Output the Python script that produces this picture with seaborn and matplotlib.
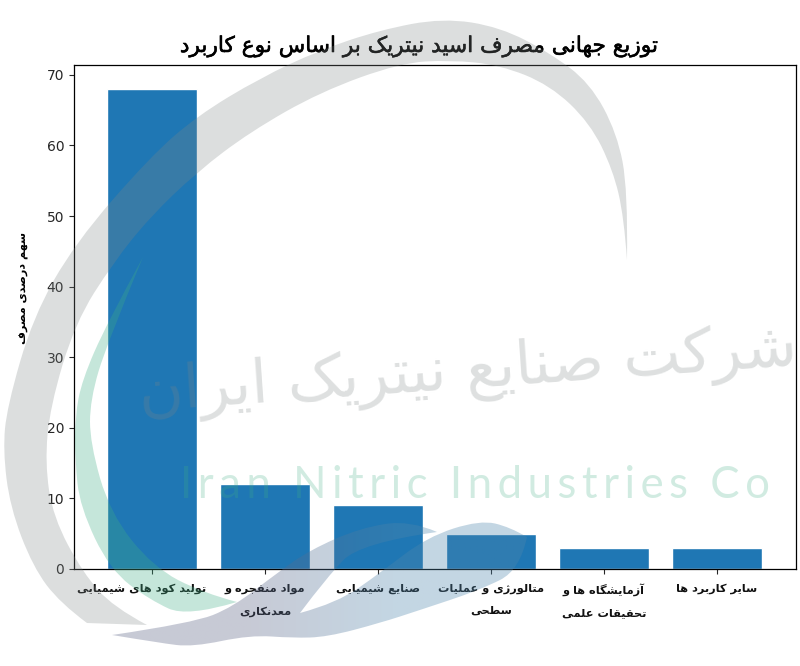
import numpy as np
import pandas as pd
import seaborn as sns
import matplotlib.pyplot as plt
import matplotlib.patheffects as pe
from matplotlib.colors import LinearSegmentedColormap
from matplotlib.patches import PathPatch
from matplotlib.path import Path
from matplotlib.transforms import ScaledTranslation

# letras -> formas (aislada, final, inicial, media)
forms = {
	'ا': (0xFE8D, 0xFE8E), 'آ': (0xFE81, 0xFE82), 'ب': (0xFE8F, 0xFE90, 0xFE91, 0xFE92),
	'پ': (0xFB56, 0xFB57, 0xFB58, 0xFB59), 'ت': (0xFE95, 0xFE96, 0xFE97, 0xFE98),
	'ج': (0xFE9D, 0xFE9E, 0xFE9F, 0xFEA0), 'ح': (0xFEA1, 0xFEA2, 0xFEA3, 0xFEA4),
	'د': (0xFEA9, 0xFEAA), 'ر': (0xFEAD, 0xFEAE), 'ز': (0xFEAF, 0xFEB0), 'ژ': (0xFB8A, 0xFB8B),
	'س': (0xFEB1, 0xFEB2, 0xFEB3, 0xFEB4), 'ش': (0xFEB5, 0xFEB6, 0xFEB7, 0xFEB8),
	'ص': (0xFEB9, 0xFEBA, 0xFEBB, 0xFEBC), 'ع': (0xFEC9, 0xFECA, 0xFECB, 0xFECC),
	'ط': (0xFEC1, 0xFEC2, 0xFEC3, 0xFEC4), 'ف': (0xFED1, 0xFED2, 0xFED3, 0xFED4),
	'ق': (0xFED5, 0xFED6, 0xFED7, 0xFED8), 'ک': (0xFB8E, 0xFB8F, 0xFB90, 0xFB91),
	'گ': (0xFB92, 0xFB93, 0xFB94, 0xFB95), 'ل': (0xFEDD, 0xFEDE, 0xFEDF, 0xFEE0),
	'م': (0xFEE1, 0xFEE2, 0xFEE3, 0xFEE4), 'ن': (0xFEE5, 0xFEE6, 0xFEE7, 0xFEE8),
	'و': (0xFEED, 0xFEEE), 'ه': (0xFEE9, 0xFEEA, 0xFEEB, 0xFEEC), 'ی': (0xFBFC, 0xFBFD, 0xFBFE, 0xFBFF),
}


def fa(text):
	# matplotlib no da forma al persa: se hace a mano y se invierte
	lines = []
	for line in text.split('\n'):
		out = ''
		for i, c in enumerate(line):
			if c not in forms:
				out += c
				continue
			prev = line[i - 1] if i > 0 else ' '
			nxt = line[i + 1] if i < len(line) - 1 else ' '
			after = prev in forms and len(forms[prev]) == 4
			before = nxt in forms and len(forms[c]) == 4
			idx = 3 if (after and before) else 1 if after else 2 if before else 0
			out += chr(forms[c][idx])
		lines.append(out[::-1])
	return '\n'.join(lines)


uses = ["تولید کود های شیمیایی", "مواد منفجره و\nمعدنکاری", "صنایع شیمیایی",
	"متالورژی و عملیات\nسطحی", "آزمایشگاه ها و\nتحقیقات علمی", "سایر کاربرد ها"]
shares = [68, 12, 9, 5, 3, 3]
title = "توزیع جهانی مصرف اسید نیتریک بر اساس نوع کاربرد"
ylabel = "سهم درصدی مصرف"
mark_fa = "شرکت صنایع نیتریک ایران"
mark_en = "Iran Nitric Industries Co"

W, H = 800, 666
df = pd.DataFrame({"use": [fa(u) for u in uses], "share": shares})

sns.set_style("ticks")
plt.rcParams['font.family'] = ['DejaVu Sans']
fig = plt.figure(figsize=(8, 6.66), dpi=100)
ax = fig.add_axes([74 / W, 1 - 569 / H, 722 / W, 504 / H])
sns.barplot(data=df, x="use", y="share", color="#1f77b4", saturation=1, width=0.8, ax=ax)
ax.set_xlim(-0.69, 5.70)
ax.set_ylim(0, 71.4)
ax.set_xlabel("")
ax.set_ylabel(fa(ylabel), fontsize=8, fontweight="bold", color="black")
ax.yaxis.set_label_coords(-0.063, 0.557)
ax.tick_params(axis='y', labelsize=10, length=3.5)
ax.tick_params(axis='x', labelsize=8.2, length=3.5, pad=7, labelcolor="#111111")
for t in ax.get_xticklabels():
	t.set_fontweight("bold")
	t.set_linespacing(2.5)
# la primera etiqueta esta corrida a la izquierda en el original
first = ax.get_xticklabels()[0]
first.set_transform(first.get_transform() + ScaledTranslation(-10 / 100, 0, fig.dpi_scale_trans))
for s in ax.spines.values():
	s.set_visible(True)
	s.set_linewidth(0.9)
	s.set_color("black")
fig.text(418 / W, 1 - 46 / H, fa(title), fontsize=15.6, ha="center", va="center", color="black",
	path_effects=[pe.withStroke(linewidth=0.4, foreground="black")])

# marca de agua encima de todo, en pixeles de la imagen
over = fig.add_axes([0, 0, 1, 1], zorder=5)
over.set_xlim(0, W)
over.set_ylim(H, 0)
over.axis("off")


def swoosh(arcs):
	verts = []
	codes = []
	for arc in arcs:
		p = np.array(arc, dtype=float)
		verts.append(p[0])
		codes.append(Path.LINETO if codes else Path.MOVETO)
		for k in range(1, len(p) - 2):
			verts += [p[k], (p[k] + p[k + 1]) / 2]
			codes += [Path.CURVE3, Path.CURVE3]
		verts += [p[-2], p[-1]]
		codes += [Path.CURVE3, Path.CURVE3]
	verts.append(verts[0])
	codes.append(Path.CLOSEPOLY)
	return Path(np.array(verts), codes)


grey_outer = [(87, 623), (60, 603), (33, 567), (10, 507), (3, 450), (7, 407), (33, 317), (75, 243), (150, 157), (197, 116),
	(260, 78), (320, 50), (380, 30), (443, 18), (500, 27), (550, 53), (590, 83), (617, 133), (628, 190), (627, 260)]
grey_inner = [(627, 260), (624, 217), (613, 170), (590, 123), (550, 85), (500, 65), (450, 60), (400, 63), (320, 92),
	(250, 132), (197, 172), (150, 217), (113, 263), (75, 323), (50, 407), (45, 463), (53, 517), (83, 573), (113, 607), (147, 625)]
green_outer = [(143, 257), (107, 323), (82, 380), (75, 417), (75, 460), (80, 507), (110, 570), (150, 600), (187, 617), (237, 602)]
green_inner = [(237, 602), (203, 593), (153, 567), (110, 513), (90, 443), (90, 400), (107, 343), (143, 257)]
blue_top = [(112, 635), (193, 623), (233, 607), (277, 573), (310, 550), (360, 528), (410, 520), (437, 532)]
blue_in = [(437, 532), (360, 543), (327, 577), (300, 613)]
blue_in2 = [(300, 613), (337, 603), (380, 573), (427, 537), (480, 520), (510, 527), (527, 537)]
blue_low = [(527, 537), (520, 570), (480, 590), (420, 610), (380, 623), (327, 637), (293, 638), (250, 635), (193, 647), (160, 643), (112, 635)]

over.add_patch(PathPatch(swoosh([grey_outer, grey_inner]), fc="#7f8686", ec="none", alpha=0.27))
over.add_patch(PathPatch(swoosh([green_outer, green_inner]), fc="#3fae85", ec="none", alpha=0.30))
# el azul pasa de gris a celeste de izquierda a derecha
cmap = LinearSegmentedColormap.from_list("mark", ["#5a6285", "#5a6285", "#4f86ac", "#4f86ac"])
im = over.imshow(np.linspace(0, 1, 256)[None, :], extent=[100, 540, 650, 510], cmap=cmap, alpha=0.34, aspect="auto")
blue = PathPatch(swoosh([blue_top, blue_in, blue_in2, blue_low]), fc="none", ec="none", transform=over.transData)
im.set_clip_path(blue)
over.set_xlim(0, W)
over.set_ylim(H, 0)

fig.text(468 / W, 1 - 372 / H, fa(mark_fa), fontsize=44, ha="center", va="center",
	rotation=4, color="#7f8686", alpha=0.26, zorder=6)
fig.text(475 / W, 1 - 486 / H, "\u200a\u200a".join(mark_en), fontsize=31.5, family=["Lato", "DejaVu Sans"],
	ha="center", va="center", color="#3fae85", alpha=0.24, zorder=6)

plt.savefig("out.png", dpi=100)
